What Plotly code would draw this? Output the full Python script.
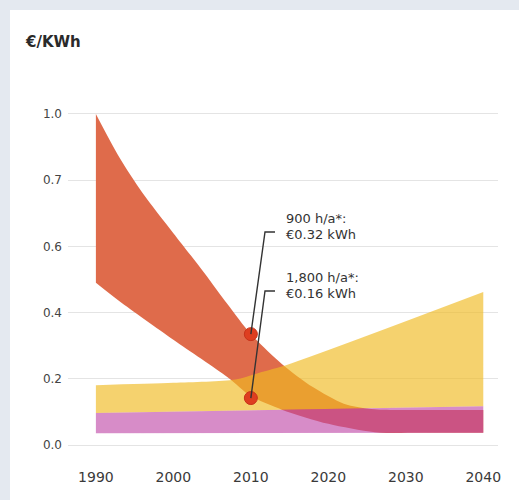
import plotly.graph_objects as go

# ---------------- data (axis units; ticks are labelled as in the original) ----------------
red_hi_years = [1990, 1993, 1996, 2000, 2004, 2007, 2010, 2014, 2018, 2022, 2026, 2033, 2040]
red_hi = [1.0, 0.87, 0.762, 0.64, 0.52, 0.425, 0.335, 0.245, 0.175, 0.125, 0.108, 0.106, 0.106]
red_lo_years = [1990, 1993, 2000, 2007, 2010, 2014, 2020, 2026, 2033, 2040]
red_lo = [0.49, 0.435, 0.318, 0.205, 0.148, 0.107, 0.064, 0.039, 0.037, 0.037]

yellow_years = [1990, 2000, 2008, 2011, 2015, 2040]
yellow_hi = [0.181, 0.188, 0.198, 0.218, 0.245, 0.462]

pink_years = [1990, 2040]
pink_hi = [0.097, 0.117]
pink_lo = [0.036, 0.037]

dot_years = [2010, 2010]
dot_values = [0.335, 0.142]
dot_labels = [["900 h/a*:", "€0.32 kWh"], ["1,800 h/a*:", "€0.16 kWh"]]

x_tickvals = [1990, 2000, 2010, 2020, 2030, 2040]
x_ticktext = ["1990", "2000", "2010", "2020", "2030", "2040"]
y_tickvals = [0.0, 0.2, 0.4, 0.6, 0.8, 1.0]
y_ticktext = ["0.0", "0.2", "0.4", "0.6", "0.7", "1.0"]
unit_label = "€/KWh"

# ---------------- layout geometry ----------------
W, H = 519, 500
L, R, T, B = 68, 21, 104, 45
XR = [1986.4, 2041.9]
YR = [-0.03, 1.03]
PW, PH = W - L - R, H - T - B


def px_x(px):
    return XR[0] + (px - L) / PW * (XR[1] - XR[0])


def px_y(py):
    return YR[0] + (H - B - py) / PH * (YR[1] - YR[0])


def paper_x(px):
    return (px - L) / PW


def paper_y(py):
    return (H - B - py) / PH


RED = "rgb(223,107,75)"
YELLOW = "rgba(240,187,35,0.66)"
PINK = "rgba(190,70,166,0.62)"
FONT = "DejaVu Sans"

fig = go.Figure()


def band(xs_lo, lo, xs_hi, hi, color, shape="linear"):
    fig.add_trace(go.Scatter(x=xs_lo, y=lo, mode="lines",
                             line=dict(width=0, shape=shape, smoothing=0.8),
                             showlegend=False, hoverinfo="skip"))
    fig.add_trace(go.Scatter(x=xs_hi, y=hi, mode="lines",
                             line=dict(width=0, shape=shape, smoothing=0.8),
                             fill="tonexty", fillcolor=color,
                             showlegend=False, hoverinfo="skip"))


band(red_lo_years, red_lo, red_hi_years, red_hi, RED, shape="spline")
band(pink_years, pink_hi, yellow_years, yellow_hi, YELLOW, shape="spline")
band(pink_years, pink_lo, pink_years, pink_hi, PINK)

fig.add_trace(go.Scatter(x=dot_years, y=dot_values, mode="markers",
                         marker=dict(size=13, color="rgb(222,62,32)",
                                     line=dict(color="rgb(200,50,25)", width=1)),
                         showlegend=False, hoverinfo="skip"))

shapes = [
    dict(type="rect", xref="paper", yref="paper",
         x0=paper_x(10), x1=paper_x(W + 5), y0=paper_y(H + 5), y1=paper_y(10),
         fillcolor="white", line=dict(width=0), layer="below"),
]
hook_y = [232, 291]
annotations = []
for i, (yr, val) in enumerate(zip(dot_years, dot_values)):
    cx, cy, ex = px_x(265), px_y(hook_y[i]), px_x(275)
    shapes.append(dict(type="path", xref="x", yref="y",
                       path=f"M {yr},{val} L {cx},{cy} L {ex},{cy}",
                       line=dict(color="#333333", width=1.4)))
    for j, txt in enumerate(dot_labels[i]):
        annotations.append(dict(text=txt, xref="paper", yref="paper",
                                x=paper_x(284), y=paper_y(hook_y[i] - 14 + j * 16),
                                xanchor="left", yanchor="middle", showarrow=False,
                                font=dict(family=FONT, size=13, color="#333333")))

annotations.append(dict(text="<b>" + unit_label + "</b>", xref="paper", yref="paper",
                        x=paper_x(23), y=paper_y(42), xanchor="left", yanchor="middle",
                        showarrow=False, font=dict(family=FONT, size=15, color="#2a2a2a")))

fig.update_layout(
    width=W, height=H,
    margin=dict(l=L, r=R, t=T, b=B, pad=0),
    paper_bgcolor="#E4E9F0",
    plot_bgcolor="white",
    shapes=shapes,
    annotations=annotations,
    xaxis=dict(range=XR, tickvals=x_tickvals, ticktext=x_ticktext, showgrid=False,
               zeroline=False, showline=False, ticks="", ticklabelstandoff=12,
               tickfont=dict(family=FONT, size=14, color="#3a3a3a")),
    yaxis=dict(range=YR, tickvals=y_tickvals, ticktext=y_ticktext, showgrid=True,
               gridcolor="#e4e4e4", gridwidth=1, zeroline=False, showline=False,
               ticks="", ticklabelstandoff=5,
               tickfont=dict(family=FONT, size=12, color="#444444")),
)

fig.write_html("out.html")
